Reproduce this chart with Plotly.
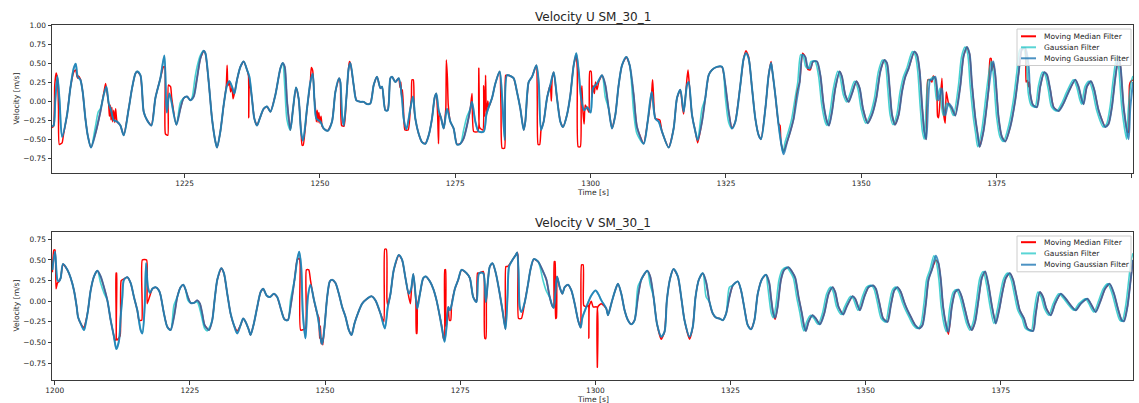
import plotly.graph_objects as go

# ---------------- data (time [s], velocity [m/s]) ----------------
U_MOVING_GAUSSIAN = [
(1200.50,-0.33),(1200.80,-0.32),(1201.10,0.00),(1201.50,0.33),(1201.90,0.00),(1202.36,-0.47),(1203.28,-0.18),(1203.89,0.17),(1204.51,0.43),(1204.88,0.49),(1205.25,0.32),(1205.74,0.28),(1206.17,0.12),(1206.67,-0.23),(1207.10,-0.45),(1207.71,-0.61),(1208.51,-0.43),(1209.44,-0.14),(1210.05,0.08),(1210.54,0.19),(1210.98,-0.03),(1211.41,-0.12),(1211.90,-0.25),(1212.52,-0.27),(1213.13,-0.32),(1213.75,-0.45),(1214.67,-0.10),(1215.29,0.17),(1215.90,0.36),(1216.21,0.39),(1216.83,0.34),(1217.44,-0.14),(1218.06,-0.25),(1218.86,-0.32),(1219.60,0.04),(1220.52,0.30),(1221.26,0.60),(1221.70,-0.15),(1222.20,0.10),(1223.48,-0.31),(1224.21,-0.10),(1224.83,0.04),(1225.45,0.06),(1226.06,0.01),(1226.68,0.06),(1227.29,0.30),(1227.91,0.56),(1228.53,0.66),(1228.83,0.63),(1229.45,0.25),(1230.06,-0.23),(1230.68,-0.53),(1230.99,-0.61),(1231.60,-0.40),(1232.22,-0.05),(1232.84,0.21),(1233.27,0.26),(1233.76,0.19),(1234.19,0.10),(1234.68,0.28),(1235.30,0.45),(1235.91,0.52),(1236.53,0.41),(1236.96,0.32),(1237.45,0.03),(1237.88,-0.23),(1238.38,-0.32),(1238.87,-0.23),(1239.61,-0.10),(1240.22,-0.07),(1240.84,-0.14),(1241.76,0.08),(1242.69,0.43),(1243.12,0.50),(1243.49,0.45),(1243.92,0.00),(1244.53,-0.38),(1245.03,-0.10),(1245.58,0.18),(1246.07,0.03),(1246.51,-0.40),(1246.87,-0.52),(1247.61,-0.10),(1248.23,0.25),(1248.66,0.36),(1248.97,0.03),(1249.34,-0.23),(1250.08,-0.27),(1250.69,-0.36),(1251.43,-0.39),(1252.23,-0.27),(1252.85,0.12),(1253.53,0.30),(1253.77,0.25),(1254.08,-0.18),(1254.39,-0.32),(1254.88,0.04),(1255.31,0.43),(1255.62,0.50),(1256.23,0.21),(1256.73,0.01),(1257.47,-0.01),(1258.08,-0.01),(1258.70,-0.04),(1259.31,-0.03),(1259.93,0.21),(1260.54,0.32),(1261.16,0.17),(1261.47,0.19),(1262.08,-0.12),(1262.52,-0.12),(1263.01,0.30),(1263.32,0.32),(1263.93,0.25),(1264.55,0.30),(1265.16,0.03),(1265.47,-0.23),(1265.96,-0.37),(1266.70,-0.10),(1267.19,0.06),
(1267.62,-0.23),(1268.24,-0.43),(1268.86,-0.54),(1269.47,-0.56),(1270.09,-0.45),(1270.70,-0.23),(1271.20,0.05),(1271.50,0.10),(1271.93,-0.12),(1272.40,-0.23),(1272.86,-0.36),(1273.47,-0.10),(1274.09,-0.27),(1274.70,-0.36),(1275.32,-0.57),(1275.94,-0.56),(1276.55,-0.49),(1277.17,-0.32),(1277.78,-0.10),(1278.09,-0.01),(1278.71,-0.27),(1279.32,-0.40),(1280.25,-0.40),(1280.74,-0.18),(1281.17,-0.08),(1281.79,0.04),(1282.40,0.23),(1283.20,0.39),(1283.63,0.08),(1284.13,-0.51),(1284.56,0.34),(1285.17,0.33),(1285.79,0.30),(1286.40,0.12),(1287.02,-0.10),(1287.64,-0.38),(1287.94,-0.27),(1288.56,0.25),(1289.18,0.32),(1289.98,0.47),(1290.41,0.25),(1290.84,-0.38),(1291.33,-0.27),(1291.95,0.04),(1292.56,0.21),(1293.18,0.38),(1293.79,0.04),(1294.41,-0.27),(1294.90,-0.34),(1295.64,-0.18),(1296.26,0.08),(1296.87,0.47),(1297.36,0.63),(1297.80,0.39),(1298.23,0.05),(1298.80,-0.12),(1299.40,-0.08),(1300.00,-0.15),(1300.44,0.17),(1301.18,0.23),(1302.11,0.34),(1302.72,0.21),(1303.34,-0.10),(1303.95,-0.36),(1304.57,-0.18),(1305.18,0.21),(1305.80,0.47),(1306.60,0.58),(1307.22,0.47),(1307.96,0.08),(1308.57,-0.34),(1309.80,-0.56),(1310.54,-0.27),(1311.28,0.12),(1311.96,-0.23),(1312.57,-0.27),(1313.19,-0.40),(1314.42,-0.61),(1315.34,-0.36),(1315.96,0.04),(1316.58,0.15),(1317.19,-0.14),(1317.81,0.21),(1318.12,0.25),(1318.73,-0.18),(1319.35,-0.40),(1319.78,-0.51),(1320.58,-0.27),(1321.19,0.04),(1321.81,0.34),(1322.43,0.41),(1323.35,0.45),(1324.27,0.45),(1324.89,0.21),(1325.51,-0.14),(1326.12,-0.36),(1326.74,-0.27),(1327.66,0.21),(1328.28,0.56),(1328.71,0.63),(1329.20,0.56),(1329.82,0.17),(1330.43,-0.23),(1331.05,-0.45),(1331.48,-0.50),(1332.28,-0.10),(1332.89,0.34),(1333.33,0.50),
(1333.51,0.43),(1334.12,0.08),(1334.74,-0.32),(1335.17,-0.54),(1335.66,-0.70),(1336.28,-0.54),(1336.89,-0.40),(1337.51,-0.23),(1338.13,0.04),(1338.62,0.25),(1339.17,0.61),(1339.67,0.58),(1340.10,0.45),(1340.59,0.43),(1341.08,0.52),(1341.82,0.52),(1342.44,0.34),(1343.05,-0.05),(1343.67,-0.27),(1344.04,-0.32),(1344.59,-0.14),(1345.21,0.17),(1346.01,0.39),(1346.44,0.32),(1347.05,0.08),(1347.67,-0.01),(1348.29,0.10),(1349.09,0.26),(1349.70,0.17),(1350.32,-0.10),(1351.18,-0.29),(1351.98,-0.18),(1352.78,0.04),(1353.52,0.39),(1354.26,0.54),(1354.75,0.50),(1355.24,0.17),(1355.68,-0.18),(1356.23,-0.31),(1356.91,-0.18),(1357.52,0.12),(1358.14,0.32),(1358.75,0.43),(1359.80,0.65),(1360.29,0.61),(1360.79,0.39),(1361.22,-0.05),(1361.65,-0.40),(1362.00,-0.50),(1362.74,0.28),(1363.05,0.28),(1363.67,0.32),(1363.97,0.19),(1364.28,0.01),(1364.90,0.17),(1365.20,-0.08),(1365.51,-0.19),(1366.13,-0.03),(1366.74,-0.08),(1367.36,-0.19),(1368.28,0.19),(1368.90,0.59),(1369.52,0.71),(1370.01,0.62),(1370.44,0.23),(1371.05,-0.21),(1371.49,-0.43),(1371.86,-0.60),(1372.59,-0.39),(1373.52,0.15),(1374.13,0.46),(1374.40,0.52),(1374.75,0.35),(1375.36,-0.21),(1375.98,-0.47),(1376.60,-0.53),(1377.52,-0.34),(1378.44,0.01),(1379.06,0.36),(1379.68,0.68),(1380.29,0.70),(1380.91,0.46),(1381.21,0.10),(1381.71,-0.05),(1382.45,-0.08),(1383.06,0.19),(1383.80,0.38),(1384.29,0.35),(1384.91,0.15),(1385.53,-0.08),(1386.45,-0.13),(1387.37,-0.03),(1388.30,0.12),(1389.53,0.28),(1390.14,0.19),(1390.76,0.01),(1391.07,-0.04),(1391.68,0.19),(1392.42,0.26),(1393.04,0.15),(1393.84,-0.12),(1395.07,-0.34),(1395.68,-0.30),(1396.30,-0.08),(1396.92,0.30),(1397.53,0.58),(1397.90,0.45),(1398.50,-0.10),(1399.38,-0.50),(1399.69,-0.10),(1400.20,0.25),
]

U_MOVING_MEDIAN = [
(1200.50,-0.35),(1200.80,-0.33),(1201.00,0.20),(1201.25,0.37),(1201.50,0.30),(1201.70,-0.10),(1201.85,-0.57),(1202.36,-0.55),(1202.60,-0.45),(1203.28,-0.18),(1203.89,0.17),(1204.51,0.38),(1204.88,0.41),(1205.10,0.33),(1205.25,0.30),(1205.40,0.33),(1205.74,0.29),(1206.17,0.12),(1206.67,-0.23),(1207.10,-0.45),(1207.71,-0.61),(1208.51,-0.43),(1209.44,-0.14),(1210.05,0.10),(1210.40,0.23),(1210.70,0.10),(1210.98,-0.05),(1211.10,-0.20),(1211.25,-0.05),(1211.41,-0.25),(1211.55,-0.08),(1211.70,-0.27),(1211.90,-0.12),(1212.10,-0.28),(1212.25,-0.10),(1212.52,-0.27),(1213.13,-0.32),(1213.75,-0.45),(1214.67,-0.10),(1215.29,0.17),(1215.90,0.36),(1216.21,0.39),(1216.83,0.34),(1217.44,-0.14),(1218.06,-0.25),(1218.86,-0.32),(1219.60,0.04),(1220.52,0.30),(1221.10,0.45),(1221.35,0.45),(1221.45,-0.43),(1221.90,-0.45),(1222.00,0.21),(1222.40,0.19),(1222.60,0.05),(1223.48,-0.31),(1224.21,-0.10),(1224.83,0.04),(1225.45,0.06),(1226.06,0.01),(1226.68,0.06),(1227.29,0.30),(1227.91,0.56),(1228.53,0.66),(1228.83,0.63),(1229.45,0.25),(1230.06,-0.23),(1230.68,-0.53),(1230.99,-0.61),(1231.60,-0.40),(1232.22,-0.05),(1232.70,0.20),(1232.85,0.47),(1233.00,0.20),(1233.27,0.26),(1233.50,0.12),(1233.76,0.18),(1233.95,0.03),(1234.19,0.10),(1234.68,0.28),(1235.30,0.45),(1235.91,0.52),(1236.53,0.41),(1236.80,0.33),(1236.85,-0.22),(1236.95,0.28),(1237.45,0.03),(1237.88,-0.23),(1238.38,-0.32),(1238.87,-0.23),(1239.61,-0.10),(1240.22,-0.07),(1240.84,-0.14),(1241.76,0.08),(1242.69,0.43),(1243.12,0.50),(1243.49,0.45),(1243.92,0.00),(1244.53,-0.38),(1245.03,-0.10),(1245.58,0.18),(1246.07,0.03),(1246.51,-0.40),(1246.70,-0.58),(1246.90,-0.58),(1247.61,-0.10),(1248.23,0.25),(1248.40,0.44),(1248.66,0.40),(1248.97,0.03),(1249.20,-0.12),(1249.34,-0.27),(1249.50,-0.12),(1249.65,-0.28),(1249.80,-0.15),(1250.00,-0.29),(1250.20,-0.20),(1250.40,-0.33),(1250.69,-0.36),(1251.43,-0.39),(1252.23,-0.27),(1252.85,0.12),(1253.53,0.30),(1253.77,0.25),(1254.00,-0.32),(1254.45,-0.33),(1254.88,0.04),(1255.31,0.45),(1255.45,0.52),(1255.62,0.50),(1256.23,0.21),(1256.73,0.01),(1257.47,-0.01),(1258.08,-0.01),(1258.70,-0.04),(1259.31,-0.03),(1259.93,0.21),(1260.54,0.32),(1261.16,0.17),(1261.47,0.19),(1262.08,-0.12),(1262.52,-0.12),(1263.01,0.30),(1263.32,0.32),(1263.93,0.25),(1264.55,0.30),(1264.80,0.18),(1264.95,0.25),(1265.10,0.05),(1265.25,0.15),(1265.40,-0.05),(1265.55,-0.30),(1265.70,-0.38),(1266.30,-0.38),(1266.70,-0.10),(1266.90,0.05),(1267.00,0.28),(1267.25,0.28),(1267.40,-0.10),
(1267.62,-0.23),(1268.24,-0.43),(1268.86,-0.54),(1269.47,-0.56),(1270.09,-0.45),(1270.70,-0.23),(1271.20,0.05),(1271.50,0.10),(1271.75,-0.20),(1271.90,-0.56),(1272.05,-0.15),(1272.40,-0.23),(1272.86,-0.36),(1273.25,-0.10),(1273.35,0.54),(1273.55,0.30),(1273.70,-0.05),(1274.09,-0.27),(1274.70,-0.36),(1275.32,-0.57),(1275.94,-0.56),(1276.55,-0.49),(1277.17,-0.32),(1277.78,-0.10),(1278.09,0.10),(1278.40,-0.40),(1279.20,-0.40),(1279.35,0.43),(1279.50,-0.35),(1280.10,-0.38),(1280.25,0.20),(1280.45,-0.20),(1280.60,0.34),(1280.74,-0.18),(1281.00,0.00),(1281.17,-0.08),(1281.79,0.04),(1282.40,0.23),(1283.20,0.39),(1283.45,-0.10),(1283.65,-0.62),(1284.10,-0.62),(1284.30,0.34),(1284.56,0.34),(1285.17,0.33),(1285.79,0.30),(1286.40,0.12),(1287.02,-0.10),(1287.64,-0.38),(1287.94,-0.27),(1288.56,0.25),(1289.18,0.32),(1289.98,0.47),(1290.15,0.00),(1290.30,-0.57),(1290.60,-0.57),(1290.84,-0.38),(1291.33,-0.27),(1291.95,0.04),(1292.56,0.21),(1292.75,0.00),(1292.90,0.30),(1293.18,0.38),(1293.79,0.04),(1294.41,-0.27),(1294.90,-0.34),(1295.64,-0.18),(1296.26,0.08),(1296.87,0.47),(1297.36,0.60),(1297.55,0.40),(1297.70,-0.60),(1298.10,-0.60),(1298.25,0.05),(1298.40,0.20),(1298.55,-0.10),(1298.80,-0.30),(1299.00,-0.05),(1299.40,-0.10),(1299.70,-0.15),(1299.85,0.39),(1300.10,0.39),(1300.25,0.05),(1300.44,0.20),(1300.70,0.10),(1300.90,0.25),(1301.18,0.15),(1301.50,0.25),(1302.11,0.34),(1302.72,0.21),(1303.34,-0.10),(1303.95,-0.36),(1304.57,-0.18),(1305.18,0.21),(1305.80,0.47),(1306.60,0.58),(1307.22,0.47),(1307.96,0.08),(1308.57,-0.34),(1309.80,-0.56),(1310.54,-0.27),(1311.28,0.12),(1311.45,0.28),(1311.60,0.10),(1311.96,-0.23),(1312.57,-0.24),(1312.80,-0.25),(1313.19,-0.40),(1314.42,-0.61),(1315.34,-0.36),(1315.96,0.04),(1316.58,0.15),(1317.00,-0.10),(1317.19,-0.17),(1317.81,0.30),(1318.00,0.41),(1318.20,0.25),(1318.73,-0.18),(1319.35,-0.40),(1319.78,-0.55),(1320.58,-0.27),(1321.19,0.04),(1321.81,0.34),(1322.43,0.41),(1323.35,0.45),(1324.27,0.45),(1324.89,0.21),(1325.51,-0.14),(1326.12,-0.36),(1326.74,-0.27),(1327.66,0.21),(1328.28,0.56),(1328.71,0.66),(1329.20,0.58),(1329.82,0.17),(1330.43,-0.23),(1331.05,-0.45),(1331.48,-0.50),(1332.28,-0.10),(1332.89,0.34),(1333.33,0.52),
(1333.51,0.43),(1334.12,0.08),(1334.74,-0.30),(1335.00,-0.32),(1335.17,-0.55),(1335.66,-0.66),(1336.28,-0.54),(1336.89,-0.40),(1337.51,-0.23),(1338.13,0.12),(1338.62,0.25),(1339.17,0.63),(1339.67,0.58),(1340.10,0.42),(1340.59,0.41),(1341.08,0.52),(1341.82,0.52),(1342.44,0.34),(1343.05,-0.05),(1343.67,-0.27),(1344.04,-0.32),(1344.59,-0.14),(1345.21,0.17),(1346.01,0.39),(1346.44,0.32),(1347.05,0.08),(1347.67,-0.01),(1348.29,0.10),(1349.09,0.26),(1349.70,0.17),(1350.32,-0.10),(1351.18,-0.29),(1351.98,-0.18),(1352.78,0.04),(1353.52,0.39),(1354.26,0.54),(1354.75,0.50),(1355.24,0.17),(1355.68,-0.18),(1356.23,-0.31),(1356.91,-0.18),(1357.52,0.12),(1358.14,0.32),(1358.75,0.43),(1359.80,0.65),(1360.29,0.61),(1360.79,0.39),(1361.22,-0.05),(1361.65,-0.40),(1362.00,-0.50),(1362.30,0.28),(1362.74,0.28),(1363.05,0.25),(1363.30,0.33),(1363.67,0.30),(1363.97,0.15),(1364.10,-0.20),(1364.28,-0.22),(1364.50,-0.05),(1364.90,0.30),(1365.10,-0.10),(1365.51,-0.29),(1365.70,0.12),(1366.13,-0.03),(1366.74,-0.10),(1367.36,-0.19),(1368.28,0.19),(1368.90,0.59),(1369.52,0.71),(1370.01,0.62),(1370.44,0.23),(1371.05,-0.21),(1371.49,-0.43),(1371.86,-0.60),(1372.59,-0.39),(1373.52,0.15),(1373.80,0.56),(1374.00,0.56),(1374.13,0.40),(1374.40,0.50),(1374.75,0.35),(1375.36,-0.21),(1375.98,-0.47),(1376.60,-0.53),(1377.52,-0.34),(1378.44,0.01),(1379.06,0.36),(1379.68,0.68),(1380.29,0.70),(1380.45,0.25),(1380.70,0.27),(1380.91,0.19),(1381.05,0.25),(1381.21,0.10),(1381.71,-0.05),(1382.45,-0.08),(1383.06,0.19),(1383.80,0.38),(1384.29,0.35),(1384.91,0.15),(1385.53,-0.08),(1386.45,-0.13),(1387.37,-0.03),(1388.30,0.12),(1389.53,0.28),(1390.14,0.19),(1390.76,0.01),(1391.07,-0.04),(1391.68,0.19),(1392.42,0.26),(1393.04,0.15),(1393.84,-0.12),(1395.07,-0.34),(1395.68,-0.30),(1396.30,-0.08),(1396.92,0.30),(1397.53,0.58),(1397.90,0.45),(1398.50,-0.10),(1399.20,-0.41),(1399.38,-0.41),(1399.55,0.21),(1399.80,0.26),(1400.20,0.28),
]

U_GAUSSIAN = [
(1200.50,-0.33),(1200.80,-0.32),(1201.10,0.00),(1201.50,0.33),(1201.90,0.00),(1202.36,-0.47),(1203.28,-0.18),(1203.89,0.17),(1204.51,0.43),(1204.88,0.49),(1205.25,0.32),(1205.74,0.28),(1206.17,0.12),(1206.67,-0.23),(1207.10,-0.45),(1207.71,-0.61),(1208.51,-0.34),(1209.05,-0.14),(1209.44,-0.10),(1210.05,0.08),(1210.54,0.19),(1210.98,-0.03),(1211.41,-0.12),(1211.90,-0.25),(1212.52,-0.27),(1213.13,-0.32),(1213.75,-0.45),(1214.67,-0.10),(1215.29,0.17),(1215.90,0.36),(1216.21,0.39),(1216.83,0.34),(1217.44,-0.14),(1218.06,-0.25),(1218.86,-0.32),(1219.60,0.04),(1220.52,0.30),(1221.26,0.60),(1221.70,-0.15),(1222.20,0.10),(1223.48,-0.31),(1224.21,-0.02),(1224.83,0.04),(1225.45,0.06),(1226.06,0.01),(1226.40,0.05),(1226.90,0.30),(1227.30,0.45),(1227.91,0.60),(1228.53,0.66),(1228.83,0.63),(1229.45,0.25),(1230.06,-0.23),(1230.68,-0.53),(1230.99,-0.61),(1231.60,-0.40),(1232.22,-0.05),(1232.84,0.21),(1233.27,0.26),(1233.76,0.19),(1234.19,0.10),(1234.68,0.28),(1235.30,0.45),(1235.91,0.52),(1236.53,0.41),(1236.96,0.32),(1237.45,0.03),(1237.88,-0.23),(1238.38,-0.32),(1238.87,-0.23),(1239.61,-0.10),(1240.22,-0.07),(1240.84,-0.14),(1241.76,0.08),(1242.69,0.43),(1243.12,0.50),(1243.49,0.20),(1243.92,-0.25),(1244.53,-0.38),(1245.03,-0.10),(1245.58,0.18),(1246.07,0.03),(1246.51,-0.40),(1246.87,-0.52),(1247.61,-0.10),(1248.23,0.25),(1248.66,0.36),(1248.97,0.03),(1249.34,-0.23),(1250.08,-0.27),(1250.69,-0.36),(1251.43,-0.39),(1252.23,-0.27),(1252.85,0.12),(1253.53,0.30),(1253.77,0.25),(1254.08,-0.18),(1254.39,-0.32),(1254.88,0.04),(1255.31,0.43),(1255.62,0.50),(1256.23,0.21),(1256.73,0.01),(1257.47,-0.01),(1258.08,-0.01),(1258.70,-0.04),(1259.31,-0.03),(1259.93,0.21),(1260.54,0.32),(1261.16,0.17),(1261.47,0.19),(1262.08,-0.12),(1262.52,-0.12),(1263.01,0.30),(1263.32,0.32),(1263.93,0.25),(1264.55,0.30),(1265.16,0.03),(1265.47,-0.23),(1265.96,-0.37),(1266.70,-0.10),(1267.19,0.06),
(1267.62,-0.23),(1268.24,-0.43),(1268.86,-0.54),(1269.47,-0.56),(1270.09,-0.45),(1270.70,-0.23),(1271.20,0.05),(1271.50,0.10),(1271.93,-0.12),(1272.40,-0.23),(1272.86,-0.36),(1273.47,-0.10),(1274.09,-0.27),(1274.70,-0.36),(1275.32,-0.57),(1275.94,-0.56),(1276.55,-0.38),(1277.17,-0.20),(1277.78,-0.10),(1278.09,-0.01),(1278.71,-0.27),(1279.32,-0.40),(1280.25,-0.40),(1280.74,-0.18),(1281.17,-0.08),(1281.79,0.04),(1282.40,0.23),(1283.20,0.39),(1283.63,0.08),(1284.13,-0.51),(1284.56,0.34),(1285.17,0.33),(1285.79,0.30),(1286.40,0.12),(1287.02,-0.10),(1287.64,-0.38),(1287.94,-0.27),(1288.56,0.25),(1289.18,0.32),(1289.98,0.47),(1290.41,0.25),(1290.84,-0.38),(1291.33,-0.27),(1291.95,0.04),(1292.56,0.21),(1293.18,0.38),(1293.79,0.04),(1294.41,-0.27),(1294.90,-0.34),(1295.64,-0.18),(1296.26,0.08),(1296.87,0.47),(1297.36,0.63),(1297.80,0.39),(1298.23,0.05),(1298.80,-0.12),(1299.40,-0.08),(1300.00,-0.15),(1300.44,0.17),(1301.18,0.23),(1302.11,0.34),(1302.72,0.05),(1303.34,-0.10),(1303.95,-0.36),(1304.57,-0.18),(1305.18,0.21),(1305.80,0.47),(1306.60,0.58),(1307.22,0.47),(1307.96,-0.15),(1308.57,-0.43),(1309.80,-0.56),(1310.54,-0.27),(1311.28,0.12),(1311.96,-0.23),(1312.57,-0.27),(1313.19,-0.40),(1314.42,-0.61),(1315.34,-0.36),(1315.96,0.04),(1316.58,0.15),(1317.19,-0.14),(1317.81,0.21),(1318.12,0.25),(1318.73,-0.18),(1319.35,-0.40),(1319.78,-0.51),(1320.58,-0.10),(1321.19,0.04),(1321.81,0.34),(1322.43,0.41),(1323.35,0.45),(1324.27,0.45),(1324.89,0.05),(1325.51,-0.28),(1326.12,-0.36),(1326.74,-0.27),(1327.66,0.21),(1328.28,0.56),(1328.71,0.63),(1329.20,0.56),(1329.82,0.17),(1330.43,-0.23),(1331.05,-0.45),(1331.48,-0.50),(1332.28,-0.10),(1332.89,0.34),(1333.33,0.50),
(1333.51,0.43),(1334.12,0.08),(1334.74,-0.32),(1335.17,-0.54),(1335.55,-0.68),(1335.93,-0.54),(1336.54,-0.40),(1337.16,-0.23),(1337.78,0.04),(1338.27,0.25),(1338.82,0.61),(1339.32,0.58),(1339.75,0.45),(1340.24,0.43),(1340.73,0.52),(1341.47,0.52),(1342.09,0.34),(1342.70,-0.05),(1343.32,-0.27),(1343.69,-0.32),(1344.24,-0.14),(1344.86,0.17),(1345.66,0.39),(1346.09,0.32),(1346.70,0.08),(1347.32,-0.01),(1347.94,0.10),(1348.74,0.26),(1349.35,0.17),(1349.97,-0.10),(1350.83,-0.29),(1351.63,-0.18),(1352.43,0.04),(1353.17,0.39),(1353.91,0.54),(1354.40,0.50),(1354.89,0.17),(1355.33,-0.18),(1355.88,-0.31),(1356.56,-0.18),(1357.17,0.12),(1357.79,0.32),(1358.40,0.43),(1359.45,0.65),(1359.94,0.61),(1360.44,0.39),(1360.87,-0.05),(1361.30,-0.40),(1361.65,-0.50),(1362.39,0.28),(1362.70,0.28),(1363.32,0.32),(1363.62,0.19),(1363.93,0.01),(1364.55,0.17),(1364.85,-0.08),(1365.16,-0.19),(1365.78,-0.03),(1366.39,-0.08),(1367.01,-0.19),(1367.93,0.19),(1368.55,0.59),(1369.17,0.71),(1369.66,0.62),(1370.09,0.23),(1370.70,-0.21),(1371.14,-0.43),(1371.51,-0.60),(1372.24,-0.39),(1373.17,0.15),(1373.78,0.46),(1374.05,0.52),(1374.40,0.35),(1375.01,-0.21),(1375.63,-0.47),(1376.25,-0.53),(1377.17,-0.34),(1378.09,0.01),(1378.71,0.36),(1379.33,0.68),(1379.94,0.70),(1380.56,0.46),(1380.86,0.10),(1381.36,-0.05),(1382.10,-0.08),(1382.71,0.19),(1383.45,0.38),(1383.94,0.35),(1384.56,0.15),(1385.18,-0.08),(1386.10,-0.13),(1387.02,-0.03),(1387.95,0.12),(1389.18,0.28),(1389.79,0.19),(1390.41,0.01),(1390.72,-0.04),(1391.33,0.19),(1392.07,0.26),(1392.69,0.15),(1393.49,-0.12),(1394.72,-0.34),(1395.33,-0.30),(1395.95,-0.08),(1396.57,0.30),(1397.18,0.58),(1397.55,0.45),(1398.15,-0.10),(1399.03,-0.50),(1399.34,-0.10),(1399.85,0.25),(1400.20,0.33),
]

V_MOVING_GAUSSIAN = [
(1199.57,0.38),(1200.06,0.60),(1200.50,0.26),(1200.80,0.24),(1201.10,0.28),(1201.54,0.45),(1202.34,0.38),(1202.96,0.28),(1203.57,0.13),(1204.07,-0.07),(1204.31,-0.19),(1204.80,-0.27),(1205.42,-0.35),(1205.73,-0.27),(1206.16,-0.11),(1206.65,0.13),(1207.27,0.30),(1207.89,0.37),(1208.50,0.30),(1209.11,0.17),(1209.74,0.01),(1210.35,-0.23),(1210.96,-0.43),(1211.40,-0.58),(1211.89,-0.48),(1212.20,-0.19),(1212.51,0.05),(1212.81,0.26),(1213.43,0.29),(1214.05,0.22),(1214.66,0.05),(1215.28,-0.11),(1215.90,-0.35),(1216.21,-0.39),(1216.64,-0.07),(1216.90,0.46),(1217.25,0.17),(1217.62,0.10),(1218.06,0.15),(1218.67,0.17),(1219.28,0.13),(1219.59,0.07),(1220.21,-0.15),(1220.82,-0.31),(1221.44,-0.35),(1222.06,-0.19),(1222.67,0.05),(1223.29,0.17),(1223.78,0.20),(1224.21,0.14),(1224.64,0.05),(1225.14,-0.02),(1225.75,-0.02),(1226.37,0.01),(1226.86,-0.03),(1227.29,-0.15),(1227.73,-0.29),(1228.53,-0.35),(1229.14,-0.23),(1229.57,0.01),(1230.07,0.26),(1230.81,0.40),(1231.30,0.34),(1231.92,0.09),(1232.53,-0.15),(1233.15,-0.29),(1233.76,-0.39),(1234.38,-0.29),(1234.87,-0.21),(1235.30,-0.25),(1235.92,-0.35),(1236.23,-0.41),(1236.84,-0.27),(1237.46,-0.07),(1238.08,0.11),(1238.57,0.15),(1239.19,0.07),(1239.80,0.05),(1240.54,0.09),(1241.16,0.05),(1241.90,-0.11),(1242.51,-0.22),(1243.13,-0.23),(1243.62,-0.07),(1244.36,0.26),(1244.85,0.50),(1245.22,0.60),(1245.59,0.42),(1245.90,-0.15),(1246.39,-0.45),(1246.83,0.05),(1247.32,0.20),(1247.94,0.02),(1248.55,-0.15),(1248.86,-0.27),(1249.29,-0.49),(1249.48,-0.52),(1249.91,-0.31),(1250.40,0.05),(1250.89,0.24),(1251.32,0.26),(1251.94,0.22),(1252.56,0.09),(1253.17,-0.07),(1253.79,-0.19),(1254.41,-0.35),(1254.90,-0.41),(1255.45,-0.27),(1256.07,-0.15),(1256.87,-0.03),(1257.79,0.03),(1258.59,0.06),(1259.33,0.01),(1260.26,-0.15),(1261.06,-0.33),(1261.61,-0.07),(1262.11,0.09),(1262.72,0.38),(1263.65,0.56),(1264.26,0.50),(1264.88,0.28),(1265.50,0.09),(1265.93,0.15),(1266.33,0.33),(1267.06,-0.09),(1267.56,0.09),(1268.17,0.28),(1268.66,0.30),(1269.40,0.24),(1270.02,0.15),(1270.63,0.01),(1271.25,-0.19),(1271.68,-0.35),(1272.11,-0.49),(1272.48,-0.31),(1272.79,-0.07),(1273.10,-0.11),(1273.40,-0.05),(1274.02,0.15),(1274.64,0.26),(1275.25,0.38),(1276.17,0.34),(1276.79,0.28),(1277.41,0.05),(1278.02,-0.01),(1278.51,0.34),(1279.25,0.34),(1279.75,-0.01),(1280.18,0.28),(1280.48,0.42),(1280.98,0.46),(1281.59,0.34),(1282.21,0.13),(1282.82,-0.11),(1283.38,-0.34),(1283.75,0.05),(1284.05,0.42),(1284.67,0.50),(1285.28,0.56),(1285.53,0.59),(1285.78,0.38),(1286.02,-0.07),(1286.33,-0.13),(1286.95,-0.01),(1287.56,0.21),(1287.99,0.38),(1288.61,0.51),(1289.41,0.48),(1290.33,0.36),(1290.95,0.26),(1291.56,0.05),(1292.06,-0.06),(1292.30,-0.08),(1292.61,0.10),(1292.92,0.30),(1293.41,0.17),(1293.90,0.09),(1294.33,0.17),(1294.95,0.20),(1295.57,0.13),(1296.18,-0.03),(1296.80,-0.23),(1297.29,-0.32),(1297.60,-0.20),(1298.34,-0.07),(1299.26,0.07),(1300.06,0.13),(1300.60,0.08),(1301.11,0.01),(1302.03,-0.09),(1302.34,-0.17),(1302.95,-0.03),(1303.57,0.11),(1304.18,0.21),(1304.80,0.09),(1305.41,-0.11),(1306.03,-0.23),(1306.65,-0.28),(1307.26,-0.23),(1307.88,0.05),(1308.49,0.26),(1309.60,0.37),(1310.15,0.30),(1310.77,0.05),(1311.39,-0.27),(1312.19,-0.43),(1312.80,-0.37),(1313.23,0.01),(1313.85,0.28),(1314.46,0.39),(1315.26,0.30),(1315.88,0.05),(1316.49,-0.23),(1317.42,-0.43),(1318.03,-0.31),(1318.53,0.05),(1319.14,0.26),(1319.88,0.34),(1320.50,0.23),(1321.11,-0.01),(1321.73,-0.15),(1322.34,-0.20),(1322.96,-0.21),(1323.57,-0.23),(1324.19,-0.15),(1324.80,0.05),(1325.42,0.19),(1326.35,0.24),(1326.96,0.13),(1327.58,-0.09),(1328.19,-0.29),(1328.81,-0.34),(1329.42,-0.23),(1330.04,0.09),(1330.84,0.27),(1331.58,0.32),(1332.17,0.22),(1332.48,0.05),(1332.91,-0.15),(1333.28,-0.20),(1333.71,-0.07),(1334.33,0.26),(1334.94,0.38),(1335.74,0.41),(1336.36,0.36),(1336.98,0.28),(1337.59,0.05),(1338.21,-0.15),(1338.64,-0.31),(1338.95,-0.36),(1339.44,-0.25),(1340.18,-0.17),(1340.80,-0.21),(1341.54,-0.28),(1342.34,-0.15),(1343.14,0.09),(1343.88,0.17),(1344.37,0.11),(1344.99,-0.07),(1345.85,-0.16),(1346.46,-0.07),(1347.57,0.06),(1348.07,0.03),(1348.93,-0.11),(1349.73,0.05),(1350.53,0.17),(1351.39,0.19),(1351.89,0.15),(1352.50,-0.01),(1353.24,-0.21),(1354.04,-0.25),(1354.66,-0.05),(1355.28,0.13),(1355.89,0.17),(1356.51,0.11),(1357.12,-0.01),(1357.74,-0.11),(1358.36,-0.19),(1359.16,-0.29),(1359.90,-0.33),(1360.51,-0.29),(1361.13,-0.03),(1361.62,0.26),(1362.24,0.38),(1362.98,0.55),(1363.47,0.46),(1363.90,0.26),(1364.33,-0.07),(1364.95,-0.31),(1365.32,-0.37),(1365.93,-0.07),(1366.55,0.11),(1367.17,0.14),(1367.78,0.05),(1368.40,-0.11),(1369.02,-0.27),(1369.63,-0.35),(1370.25,-0.25),(1370.86,0.01),(1371.48,0.28),(1372.10,0.36),(1372.71,0.20),(1373.33,-0.05),(1374.07,-0.27),(1374.68,-0.11),(1375.30,0.11),(1375.92,0.28),(1376.66,0.34),(1377.27,0.26),(1377.89,0.07),(1378.50,-0.11),(1379.30,-0.21),(1379.92,-0.33),(1380.97,-0.36),(1381.46,-0.15),(1382.20,0.11),(1382.82,0.05),(1383.43,-0.09),(1384.23,-0.17),(1385.04,-0.03),(1386.08,0.09),(1387.01,0.03),(1387.93,-0.05),(1388.86,-0.11),(1389.78,-0.03),(1391.01,0.03),(1391.63,-0.03),(1392.55,-0.13),(1393.48,0.01),(1394.28,0.15),(1395.14,0.21),(1395.94,0.09),(1396.74,-0.11),(1397.36,-0.23),(1397.79,-0.24),(1398.41,-0.07),(1399.02,0.26),(1399.45,0.50),
]

V_MOVING_MEDIAN = [
(1199.57,0.35),(1199.85,0.62),(1200.06,0.62),(1200.25,0.15),(1200.50,0.22),(1200.80,0.24),(1201.10,0.28),(1201.54,0.45),(1202.34,0.38),(1202.96,0.28),(1203.57,0.13),(1204.07,-0.07),(1204.31,-0.19),(1204.80,-0.27),(1205.42,-0.32),(1205.73,-0.25),(1206.16,-0.11),(1206.65,0.13),(1207.27,0.30),(1207.89,0.37),(1208.50,0.30),(1209.11,0.17),(1209.74,0.01),(1210.35,-0.23),(1210.96,-0.43),(1211.10,-0.47),(1211.30,-0.47),(1211.35,0.34),(1211.45,0.34),(1211.50,-0.47),(1212.10,-0.42),(1212.30,0.25),(1212.81,0.27),(1213.43,0.29),(1214.05,0.22),(1214.66,0.05),(1215.28,-0.11),(1215.60,-0.23),(1216.10,-0.23),(1216.20,0.50),(1217.00,0.50),(1217.10,-0.03),(1217.62,0.07),(1218.06,0.15),(1218.67,0.17),(1219.28,0.13),(1219.59,0.07),(1220.21,-0.15),(1220.82,-0.31),(1221.44,-0.35),(1222.06,-0.19),(1222.67,0.05),(1223.29,0.17),(1223.78,0.20),(1224.21,0.14),(1224.64,0.05),(1225.14,-0.02),(1225.75,-0.02),(1226.37,0.01),(1226.86,-0.03),(1227.29,-0.15),(1227.73,-0.29),(1228.53,-0.35),(1229.14,-0.23),(1229.57,0.01),(1230.07,0.26),(1230.81,0.40),(1231.30,0.34),(1231.92,0.09),(1232.53,-0.15),(1233.15,-0.29),(1233.76,-0.36),(1234.38,-0.29),(1234.87,-0.21),(1235.30,-0.25),(1235.92,-0.35),(1236.23,-0.41),(1236.84,-0.27),(1237.46,-0.07),(1238.08,0.11),(1238.57,0.15),(1239.19,0.07),(1239.80,0.05),(1240.54,0.09),(1241.16,0.05),(1241.90,-0.11),(1242.51,-0.22),(1243.13,-0.23),(1243.62,-0.07),(1244.36,0.26),(1244.85,0.50),(1245.22,0.52),(1245.40,0.45),(1245.50,-0.35),(1246.39,-0.33),(1246.55,0.38),(1247.00,0.38),(1247.32,0.25),(1247.94,0.02),(1248.55,-0.15),(1248.86,-0.20),(1249.00,-0.45),(1249.15,-0.30),(1249.29,-0.52),(1249.48,-0.45),(1249.60,-0.53),(1249.91,-0.31),(1250.40,0.05),(1250.89,0.24),(1251.32,0.26),(1251.94,0.22),(1252.56,0.09),(1253.17,-0.07),(1253.79,-0.19),(1254.41,-0.35),(1254.90,-0.41),(1255.45,-0.27),(1256.07,-0.15),(1256.87,-0.03),(1257.79,0.03),(1258.59,0.06),(1259.33,0.01),(1260.26,-0.15),(1260.90,-0.25),(1261.05,0.63),(1261.35,0.63),(1261.45,0.03),(1261.61,-0.05),(1262.11,0.09),(1262.72,0.38),(1263.65,0.56),(1264.26,0.50),(1264.88,0.28),(1265.50,0.05),(1265.80,-0.03),(1266.00,0.15),(1266.33,0.33),(1266.80,0.00),(1266.90,-0.39),(1267.00,-0.39),(1267.10,-0.05),(1267.56,0.09),(1268.17,0.28),(1268.66,0.30),(1269.40,0.24),(1270.02,0.15),(1270.63,0.01),(1271.25,-0.19),(1271.68,-0.33),(1271.90,-0.45),(1272.11,-0.47),(1272.15,0.38),(1272.30,0.38),(1272.35,-0.30),(1272.48,-0.28),(1272.79,-0.07),(1273.00,-0.23),(1273.25,-0.23),(1273.40,-0.05),(1274.02,0.15),(1274.64,0.26),(1275.25,0.38),(1276.17,0.34),(1276.79,0.28),(1277.41,0.05),(1278.02,-0.01),(1278.20,0.34),(1278.51,0.34),(1279.25,0.36),(1279.45,0.30),(1279.55,-0.45),(1279.75,-0.45),(1279.85,0.00),(1280.18,0.28),(1280.48,0.42),(1280.98,0.46),(1281.59,0.34),(1282.21,0.13),(1282.82,-0.11),(1283.38,-0.34),(1283.45,0.42),(1283.75,0.42),(1284.05,0.44),(1284.67,0.50),(1285.28,0.56),(1285.53,0.59),(1285.70,0.55),(1285.80,-0.21),(1286.33,-0.21),(1286.95,-0.01),(1287.56,0.21),(1287.99,0.38),(1288.61,0.51),(1289.41,0.48),(1290.33,0.36),(1290.95,0.26),(1291.56,0.05),(1292.06,-0.06),(1292.30,-0.08),(1292.40,0.48),(1292.55,0.48),(1292.65,-0.21),(1292.80,-0.20),(1292.92,0.30),(1293.41,0.17),(1293.90,0.09),(1294.33,0.17),(1294.95,0.20),(1295.57,0.13),(1296.18,-0.03),(1296.80,-0.23),(1297.29,-0.32),(1297.45,0.44),(1297.75,0.44),(1297.85,-0.05),(1298.34,-0.07),(1298.70,-0.05),(1298.80,-0.45),(1298.90,-0.05),(1299.26,0.00),(1299.60,-0.07),(1300.30,-0.07),(1300.37,-0.80),(1300.45,-0.07),(1301.11,-0.03),(1302.03,-0.09),(1302.34,-0.17),(1302.95,-0.03),(1303.57,0.11),(1304.18,0.21),(1304.80,0.09),(1305.41,-0.11),(1306.03,-0.23),(1306.65,-0.28),(1307.26,-0.23),(1307.88,0.05),(1308.49,0.26),(1309.60,0.37),(1310.15,0.30),(1310.77,0.05),(1311.39,-0.27),(1312.19,-0.46),(1312.80,-0.37),(1313.23,0.01),(1313.85,0.28),(1314.46,0.39),(1315.26,0.30),(1315.88,0.05),(1316.49,-0.23),(1317.42,-0.46),(1318.03,-0.31),(1318.53,0.05),(1319.14,0.26),(1319.88,0.34),(1320.50,0.23),(1321.11,-0.01),(1321.73,-0.15),(1322.34,-0.20),(1322.96,-0.21),(1323.57,-0.23),(1324.19,-0.15),(1324.80,0.05),(1325.42,0.19),(1326.35,0.24),(1326.96,0.13),(1327.58,-0.09),(1328.19,-0.29),(1328.81,-0.34),(1329.42,-0.23),(1330.04,0.09),(1330.84,0.27),(1331.58,0.32),(1332.17,0.22),(1332.48,0.05),(1332.91,-0.15),(1333.28,-0.22),(1333.71,-0.07),(1334.33,0.26),(1334.94,0.38),(1335.74,0.41),(1336.36,0.36),(1336.98,0.28),(1337.59,0.05),(1338.21,-0.15),(1338.64,-0.31),(1338.95,-0.36),(1339.44,-0.25),(1340.18,-0.17),(1340.80,-0.21),(1341.54,-0.28),(1342.34,-0.15),(1343.14,0.09),(1343.88,0.17),(1344.37,0.11),(1344.99,-0.07),(1345.85,-0.16),(1346.46,-0.07),(1347.57,0.06),(1348.07,0.03),(1348.93,-0.11),(1349.73,0.05),(1350.53,0.17),(1351.39,0.19),(1351.89,0.15),(1352.50,-0.01),(1353.24,-0.21),(1354.04,-0.25),(1354.66,-0.05),(1355.28,0.13),(1355.89,0.17),(1356.51,0.11),(1357.12,-0.01),(1357.74,-0.11),(1358.36,-0.19),(1359.16,-0.29),(1359.90,-0.33),(1360.51,-0.29),(1361.13,-0.03),(1361.62,0.26),(1362.24,0.38),(1362.98,0.50),(1363.47,0.46),(1363.90,0.26),(1364.33,-0.07),(1364.95,-0.31),(1365.32,-0.40),(1365.93,-0.07),(1366.55,0.11),(1367.17,0.14),(1367.78,0.05),(1368.40,-0.11),(1369.02,-0.27),(1369.63,-0.35),(1370.25,-0.25),(1370.86,0.01),(1371.48,0.28),(1372.10,0.36),(1372.71,0.20),(1373.33,-0.05),(1374.07,-0.27),(1374.68,-0.11),(1375.30,0.11),(1375.92,0.28),(1376.66,0.34),(1377.27,0.26),(1377.89,0.07),(1378.50,-0.11),(1379.30,-0.21),(1379.92,-0.33),(1380.97,-0.36),(1381.46,-0.15),(1382.20,0.11),(1382.82,0.05),(1383.43,-0.09),(1384.23,-0.17),(1385.04,-0.03),(1386.08,0.09),(1387.01,0.03),(1387.93,-0.05),(1388.86,-0.11),(1389.78,-0.03),(1391.01,0.03),(1391.63,-0.03),(1392.55,-0.13),(1393.48,0.01),(1394.28,0.15),(1395.14,0.21),(1395.94,0.09),(1396.74,-0.11),(1397.36,-0.23),(1397.79,-0.24),(1398.41,-0.07),(1399.02,0.26),(1399.45,0.50),
]

V_GAUSSIAN = [
(1199.57,0.38),(1200.06,0.60),(1200.50,0.26),(1200.80,0.24),(1201.10,0.28),(1201.54,0.45),(1202.34,0.38),(1202.96,0.28),(1203.57,0.13),(1204.07,-0.07),(1204.31,-0.19),(1204.80,-0.27),(1205.42,-0.35),(1205.73,-0.27),(1206.16,-0.11),(1206.65,0.13),(1207.27,0.30),(1207.89,0.37),(1208.50,0.22),(1209.11,0.10),(1209.74,0.01),(1210.35,-0.23),(1210.96,-0.43),(1211.40,-0.58),(1211.89,-0.48),(1212.20,-0.19),(1212.51,0.05),(1212.81,0.26),(1213.43,0.29),(1214.05,0.22),(1214.66,0.05),(1215.28,-0.11),(1215.90,-0.35),(1216.21,-0.39),(1216.64,-0.07),(1216.90,0.46),(1217.25,0.17),(1217.62,0.10),(1218.06,0.15),(1218.67,0.17),(1219.28,0.13),(1219.59,0.07),(1220.21,-0.15),(1220.82,-0.31),(1221.44,-0.35),(1222.06,-0.05),(1222.67,0.05),(1223.29,0.17),(1223.78,0.20),(1224.21,0.14),(1224.64,0.01),(1225.14,-0.02),(1225.75,-0.02),(1226.37,-0.01),(1226.86,-0.10),(1227.29,-0.22),(1227.73,-0.33),(1228.20,-0.36),(1228.53,-0.33),(1229.14,-0.23),(1229.57,0.01),(1230.07,0.26),(1230.81,0.40),(1231.30,0.34),(1231.92,0.09),(1232.53,-0.15),(1233.15,-0.29),(1233.76,-0.39),(1234.38,-0.29),(1234.87,-0.21),(1235.30,-0.25),(1235.92,-0.35),(1236.23,-0.41),(1236.84,-0.27),(1237.46,-0.07),(1238.08,0.11),(1238.57,0.15),(1239.19,0.07),(1239.80,0.05),(1240.54,0.09),(1241.16,0.05),(1241.90,-0.11),(1242.51,-0.22),(1243.13,-0.23),(1243.62,0.02),(1244.36,0.26),(1244.85,0.50),(1245.22,0.60),(1245.59,0.42),(1245.90,-0.15),(1246.39,-0.45),(1246.83,0.05),(1247.32,0.20),(1247.94,0.02),(1248.55,-0.15),(1248.86,-0.27),(1249.29,-0.49),(1249.48,-0.52),(1249.91,-0.31),(1250.40,0.05),(1250.89,0.24),(1251.32,0.26),(1251.94,0.22),(1252.56,0.09),(1253.17,-0.07),(1253.79,-0.19),(1254.41,-0.35),(1254.90,-0.41),(1255.45,-0.27),(1256.07,-0.15),(1256.87,-0.03),(1257.79,0.03),(1258.59,0.06),(1259.33,0.01),(1260.26,-0.15),(1261.06,-0.33),(1261.61,-0.07),(1262.11,0.09),(1262.72,0.38),(1263.65,0.56),(1264.26,0.50),(1264.88,0.28),(1265.50,0.09),(1265.93,0.15),(1266.33,0.33),(1267.06,-0.09),(1267.56,0.09),(1268.17,0.28),(1268.66,0.30),(1269.40,0.24),(1270.02,0.15),(1270.63,0.01),(1271.25,-0.19),(1271.68,-0.35),(1272.11,-0.49),(1272.48,-0.31),(1272.79,-0.07),(1273.10,-0.11),(1273.40,-0.05),(1274.02,0.15),(1274.64,0.26),(1275.25,0.38),(1276.17,0.34),(1276.79,0.28),(1277.41,0.05),(1278.02,-0.01),(1278.51,0.34),(1279.25,0.34),(1279.75,-0.01),(1280.18,0.28),(1280.48,0.42),(1280.98,0.46),(1281.59,0.34),(1282.21,0.13),(1282.82,-0.11),(1283.38,-0.34),(1283.75,0.05),(1284.05,0.42),(1284.67,0.50),(1285.28,0.56),(1285.53,0.59),(1285.78,0.38),(1286.02,-0.07),(1286.33,-0.13),(1286.95,-0.01),(1287.56,0.21),(1287.99,0.38),(1288.61,0.51),(1289.41,0.48),(1290.33,0.25),(1290.95,0.12),(1291.56,0.05),(1292.06,-0.06),(1292.30,-0.08),(1292.61,0.10),(1292.92,0.30),(1293.41,0.17),(1293.90,0.09),(1294.33,0.17),(1294.95,0.20),(1295.57,0.13),(1296.18,-0.03),(1296.80,-0.23),(1297.29,-0.32),(1297.60,-0.20),(1298.34,-0.07),(1299.26,0.07),(1300.06,0.13),(1300.60,0.08),(1301.11,0.01),(1302.03,-0.09),(1302.34,-0.17),(1302.95,-0.03),(1303.57,0.11),(1304.18,0.21),(1304.80,0.09),(1305.41,-0.11),(1306.03,-0.23),(1306.65,-0.28),(1307.26,-0.23),(1307.88,0.18),(1308.49,0.26),(1309.60,0.37),(1310.15,0.20),(1310.77,0.05),(1311.39,-0.27),(1312.19,-0.43),(1312.80,-0.37),(1313.23,0.01),(1313.85,0.28),(1314.46,0.39),(1315.26,0.30),(1315.88,0.05),(1316.49,-0.23),(1317.42,-0.43),(1318.03,-0.31),(1318.53,0.05),(1319.14,0.26),(1319.88,0.34),(1320.50,0.05),(1321.11,-0.01),(1321.73,-0.15),(1322.34,-0.20),(1322.96,-0.21),(1323.57,-0.23),(1324.19,-0.15),(1324.80,0.17),(1325.42,0.19),(1326.35,0.24),(1326.96,0.13),(1327.58,-0.09),(1328.19,-0.29),(1328.81,-0.34),(1329.42,-0.23),(1330.04,0.09),(1330.84,0.27),(1331.58,0.32),
(1331.82,0.22),(1332.13,0.05),(1332.56,-0.15),(1332.93,-0.20),(1333.36,-0.07),(1333.98,0.26),(1334.59,0.38),(1335.39,0.41),(1336.01,0.36),(1336.63,0.28),(1337.24,0.05),(1337.86,-0.15),(1338.29,-0.31),(1338.60,-0.36),(1339.09,-0.25),(1339.83,-0.17),(1340.45,-0.21),(1341.19,-0.28),(1341.99,-0.15),(1342.79,0.09),(1343.53,0.17),(1344.02,0.11),(1344.64,-0.07),(1345.50,-0.16),(1346.11,-0.07),(1347.22,0.06),(1347.72,0.03),(1348.58,-0.11),(1349.38,0.05),(1350.18,0.17),(1351.04,0.19),(1351.54,0.15),(1352.15,-0.01),(1352.89,-0.21),(1353.69,-0.25),(1354.31,-0.05),(1354.93,0.13),(1355.54,0.17),(1356.16,0.11),(1356.77,-0.01),(1357.39,-0.11),(1358.01,-0.19),(1358.81,-0.29),(1359.55,-0.33),(1360.16,-0.29),(1360.78,-0.03),(1361.27,0.26),(1361.89,0.38),(1362.63,0.55),(1363.12,0.46),(1363.55,0.26),(1363.98,-0.07),(1364.60,-0.31),(1364.97,-0.37),(1365.58,-0.07),(1366.20,0.11),(1366.82,0.14),(1367.43,0.05),(1368.05,-0.11),(1368.67,-0.27),(1369.28,-0.35),(1369.90,-0.25),(1370.51,0.01),(1371.13,0.28),(1371.75,0.36),(1372.36,0.20),(1372.98,-0.05),(1373.72,-0.27),(1374.33,-0.11),(1374.95,0.11),(1375.57,0.28),(1376.31,0.34),(1376.92,0.26),(1377.54,0.07),(1378.15,-0.11),(1378.95,-0.21),(1379.57,-0.33),(1380.62,-0.36),(1381.11,-0.15),(1381.85,0.11),(1382.47,0.05),(1383.08,-0.09),(1383.88,-0.17),(1384.69,-0.03),(1385.73,0.09),(1386.66,0.03),(1387.58,-0.05),(1388.51,-0.11),(1389.43,-0.03),(1390.66,0.03),(1391.28,-0.03),(1392.20,-0.13),(1393.13,0.01),(1393.93,0.15),(1394.79,0.21),(1395.59,0.09),(1396.39,-0.11),(1397.01,-0.23),(1397.44,-0.24),(1398.06,-0.07),(1398.67,0.26),(1399.10,0.50),(1399.45,0.58),
]

SERIES_NAMES = ["Moving Median Filter", "Gaussian Filter", "Moving Gaussian Filter"]
PANEL_TITLES = ["Velocity U SM_30_1", "Velocity V SM_30_1"]
X_LABEL = "Time [s]"
Y_LABEL = "Velocity [m/s]"
U_XTICKS = [1225, 1250, 1275, 1300, 1325, 1350, 1375, 1400]
V_XTICKS = [1200, 1225, 1250, 1275, 1300, 1325, 1350, 1375]
U_YTICKS = [-0.75, -0.50, -0.25, 0.00, 0.25, 0.50, 0.75, 1.00]
V_YTICKS = [-0.75, -0.50, -0.25, 0.00, 0.25, 0.50, 0.75]

# ---------------- styling ----------------
W, H = 1139, 403
ML, MR, MT, MB = 52, 6, 25, 23
FONT = "DejaVu Sans"
TXT = "#262626"
AX = "#3a3a3a"
COLORS = ["#ff0000", "rgba(0,191,191,0.72)", "rgba(31,119,180,0.82)"]
WIDTHS = [1.5, 1.6, 2.0]
SMOOTH = [0.5, 0.8, 0.8]


def px(x):
    return (x - ML) / (W - ML - MR)


def py(y):
    return (H - MB - y) / (H - MT - MB)


def fmt(v):
    s = f"{abs(v):.2f}"
    return ("\u2212" + s) if v < 0 else s


fig = go.Figure()
panels = [
    ("x", "y", [U_MOVING_MEDIAN, U_GAUSSIAN, U_MOVING_GAUSSIAN]),
    ("x2", "y2", [V_MOVING_MEDIAN, V_GAUSSIAN, V_MOVING_GAUSSIAN]),
]
for xa, ya, series in panels:
    for name, pts, col, lw, sm in zip(SERIES_NAMES, series, COLORS, WIDTHS, SMOOTH):
        fig.add_trace(go.Scatter(
            x=[p[0] for p in pts], y=[p[1] for p in pts], mode="lines",
            name=name, line=dict(color=col, width=lw, shape="spline", smoothing=sm),
            xaxis=xa, yaxis=ya, showlegend=False, hoverinfo="skip"))

axis_common = dict(showline=True, linecolor=AX, linewidth=1, mirror=True,
                   ticks="outside", ticklen=3.5, tickwidth=1, tickcolor=AX,
                   showgrid=False, zeroline=False,
                   tickfont=dict(family=FONT, size=7.4, color=TXT))

fig.update_layout(
    width=W, height=H, margin=dict(l=ML, r=MR, t=MT, b=MB),
    paper_bgcolor="white", plot_bgcolor="white",
    font=dict(family=FONT, color=TXT),
    xaxis=dict(domain=[0, 1], anchor="y", range=[1200.5, 1400.2],
               tickvals=U_XTICKS, ticktext=[str(t) for t in U_XTICKS], **axis_common),
    yaxis=dict(domain=[py(173), 1.0], anchor="x", range=[-0.945, 1.0],
               tickvals=U_YTICKS, ticktext=[fmt(v) for v in U_YTICKS], **axis_common),
    xaxis2=dict(domain=[0, 1], anchor="y2", range=[1199.5, 1399.45],
                tickvals=V_XTICKS, ticktext=[str(t) for t in V_XTICKS], **axis_common),
    yaxis2=dict(domain=[0, py(232.3)], anchor="x2", range=[-0.955, 0.835],
                tickvals=V_YTICKS, ticktext=[fmt(v) for v in V_YTICKS], **axis_common),
)

ann = []
shapes = []
for title, ty, xl_y, yl_y in [(PANEL_TITLES[0], 17, 192.5, 99),
                               (PANEL_TITLES[1], 223.5, 399, 306)]:
    ann.append(dict(text=title, x=0.5, y=py(ty), xref="paper", yref="paper",
                    xanchor="center", yanchor="middle", showarrow=False,
                    font=dict(family=FONT, size=12, color=TXT)))
    ann.append(dict(text=X_LABEL, x=0.5, y=py(xl_y), xref="paper", yref="paper",
                    xanchor="center", yanchor="middle", showarrow=False,
                    font=dict(family=FONT, size=7.6, color=TXT)))
    ann.append(dict(text=Y_LABEL, x=px(15.5), y=py(yl_y), xref="paper", yref="paper",
                    xanchor="center", yanchor="middle", showarrow=False, textangle=-90,
                    font=dict(family=FONT, size=7.6, color=TXT)))

LEG_COLORS = ["#ff0000", "rgba(0,191,191,0.65)", "rgba(31,119,180,0.8)"]
for box_top, box_bot, rows in [(29, 65.5, [36.3, 47.3, 58.3]),
                               (236, 271.8, [242.2, 253.4, 264.7])]:
    shapes.append(dict(type="rect", xref="paper", yref="paper",
                       x0=px(1017), x1=px(1131), y0=py(box_bot), y1=py(box_top),
                       fillcolor="rgba(255,255,255,0.8)",
                       line=dict(color="#cccccc", width=1), layer="above"))
    for name, col, ry in zip(SERIES_NAMES, LEG_COLORS, rows):
        shapes.append(dict(type="line", xref="paper", yref="paper",
                           x0=px(1021), x1=px(1036), y0=py(ry), y1=py(ry),
                           line=dict(color=col, width=2), layer="above"))
        ann.append(dict(text=name, x=px(1041.5), y=py(ry), xref="paper", yref="paper",
                        xanchor="left", yanchor="middle", showarrow=False,
                        font=dict(family=FONT, size=7.5, color=TXT)))

fig.update_layout(annotations=ann, shapes=shapes)
fig.write_html("out.html")
